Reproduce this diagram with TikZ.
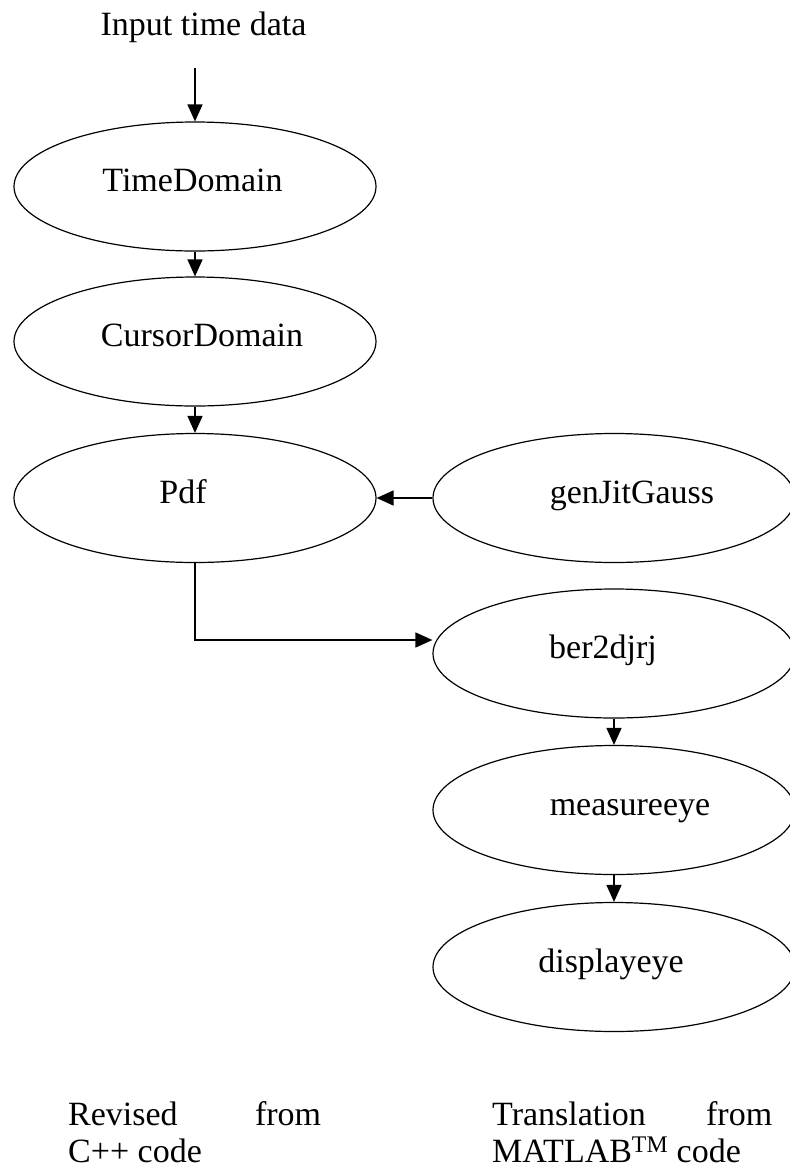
\documentclass[tikz,border=0pt]{standalone}
\usepackage{fontspec}
\setmainfont{Liberation Serif}
\usetikzlibrary{shapes.geometric,arrows.meta}
\begin{document}
\begin{tikzpicture}[x=1pt,y=-1pt,
  txt/.style={font=\fontsize{34}{37}\selectfont, inner sep=0pt},
  oval/.style={ellipse, draw, line width=1.2pt, minimum width=362pt, minimum height=129pt,
    inner sep=0pt, font=\fontsize{34}{37}\selectfont, text height=24pt, text depth=14pt},
  conn/.style={line width=1.5pt, -{Triangle[length=17pt,width=15pt]}}]
\useasboundingbox (0,0) rectangle (790,1168);
\node[txt, anchor=base] (inp) at (203.5,35) {Input time data};
\coordinate (inpt) at (195,68);
\node[oval] (td) at (195,186.5) {TimeDomain\hspace*{5pt}};
\node[oval] (cd) at (195,341.5) {\hspace*{14pt}CursorDomain};
\node[oval] (pdf) at (195,498) {Pdf\hspace*{24pt}};
\node[oval] (gen) at (614,498) {\hspace*{36pt}genJitGauss};
\node[oval] (ber) at (614,653.5) {ber2djrj\hspace*{22pt}};
\node[oval] (me) at (614,810) {\hspace*{32pt}measureeye};
\node[oval] (de) at (614,967) {displayeye\hspace*{6pt}};
\draw[conn] (inpt) -- (td.north);
\draw[conn] (td.south) -- (cd.north);
\draw[conn] (cd.south) -- (pdf.north);
\draw[conn] (gen.west) -- (pdf.east);
\draw[conn] (pdf.south) |- ([yshift=13.5pt]ber.west);
\draw[conn] (ber.south) -- (me.north);
\draw[conn] (me.south) -- (de.north);
\node[txt, anchor=base west] (rev) at (68,1125) {\makebox[253pt][s]{Revised from}};
\node[txt, anchor=base west] (cpp) at (68,1162) {C++ code};
\node[txt, anchor=base west] (tra) at (492,1125) {\makebox[280pt][s]{Translation from}};
\node[txt, anchor=base west] (mat) at (492,1162) {MATLAB\textsuperscript{TM} code};
\end{tikzpicture}
\end{document}
